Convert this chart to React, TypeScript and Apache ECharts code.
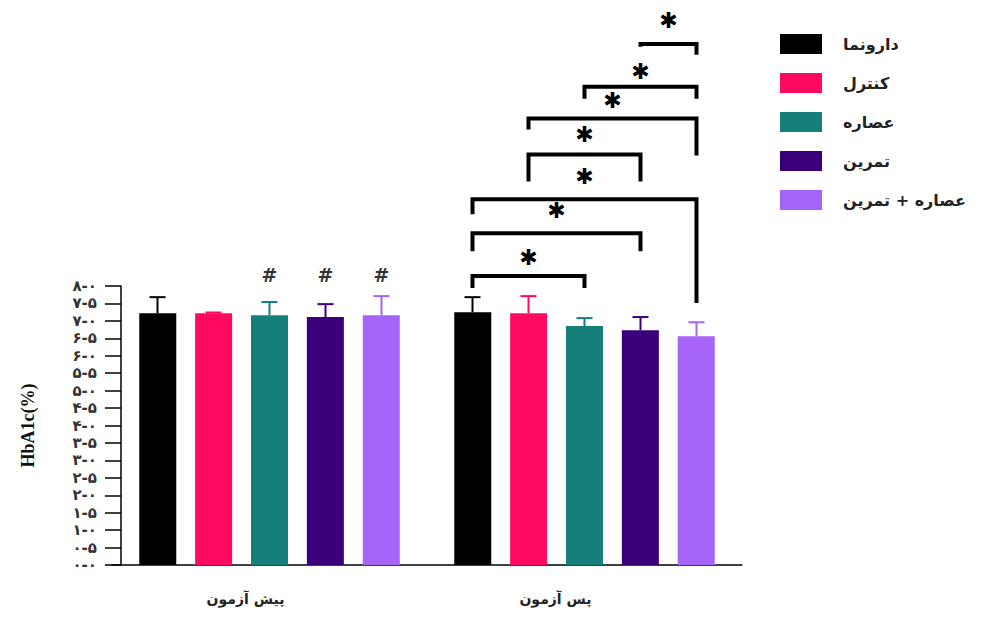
import React, { useEffect, useRef } from "react";
import * as echarts from "echarts";

// ---- data ----
const categories = ["پیش آزمون", "پس آزمون"];
const groupNames = ["دارونما", "کنترل", "عصاره", "تمرین", "عصاره + تمرین"];
const groupColors = ["#000000", "#FF0A60", "#167F7A", "#3B0079", "#A663F7"];

const placeboMean = [7.22, 7.25];
const placeboSD = [0.46, 0.43];
const controlMean = [7.22, 7.22];
const controlSD = [0.02, 0.49];
const extractMean = [7.16, 6.85];
const extractSD = [0.38, 0.23];
const exerciseMean = [7.11, 6.73];
const exerciseSD = [0.37, 0.38];
const combinedMean = [7.16, 6.56];
const combinedSD = [0.55, 0.4];

const means = [placeboMean, controlMean, extractMean, exerciseMean, combinedMean];
const sds = [placeboSD, controlSD, extractSD, exerciseSD, combinedSD];

// "#" marks above pre-test bars
const hashPre = ["", "", "#", "#", "#"];
const hashPost = ["", "", "", "", ""];
const hashLevel = 8.31;

const yTickLabels = [
  "۰-۰", "۰-۵", "۱-۰", "۱-۵", "۲-۰", "۲-۵", "۳-۰", "۳-۵", "۴-۰",
  "۴-۵", "۵-۰", "۵-۵", "۶-۰", "۶-۵", "۷-۰", "۷-۵", "۸-۰",
];

// significance brackets in post-test group (bar indices, y-levels in data units)
const bracketFrom = [3, 2, 1, 1, 0, 0, 0];
const bracketTo = [4, 4, 4, 3, 4, 3, 2];
const bracketLevel = [14.94, 13.71, 12.8, 11.77, 10.49, 9.51, 8.29];
const bracketLeftEnd = [14.86, 13.37, 12.49, 11.0, 10.06, 9.0, 7.94];
const bracketRightEnd = [14.63, 13.37, 11.74, 11.0, 7.51, 9.0, 7.94];
const starLevel = [15.6, 14.14, 13.31, 12.34, 11.14, 10.17, 8.83];

const BAR_WIDTH = 37;
const BAR_STEP = 56;
const PERSIAN_FONT = "DejaVu Sans";
const CATEGORY_LABEL_SHIFT = [48, 58]; // right padding (px) to nudge labels left

export default function App() {
  const ref = useRef<HTMLDivElement>(null);
  useEffect(() => {
    document.body.style.margin = "0";
    const chart = echarts.init(ref.current!, null, { renderer: "svg" });

    const barSeries = groupNames.map((name, s) => ({
      name,
      type: "bar",
      data: means[s],
      barWidth: BAR_WIDTH,
      barGap: "51%",
      itemStyle: { color: groupColors[s] },
      z: 2,
    }));

    const errData: number[][] = [];
    for (let s = 0; s < groupNames.length; s++) {
      for (let c = 0; c < categories.length; c++) {
        errData.push([c, s, means[s][c], sds[s][c]]);
      }
    }

    const errSeries = {
      type: "custom",
      clip: false,
      z: 3,
      encode: { x: 0, y: 2 },
      data: errData,
      renderItem: (params: any, api: any) => {
        const c = api.value(0);
        const s = api.value(1);
        const m = api.value(2);
        const sd = api.value(3);
        const base = api.coord([c, m]);
        const top = api.coord([c, m + sd]);
        const x = base[0] + (s - 2) * BAR_STEP;
        const color = groupColors[s];
        const children: any[] = [
          { type: "line", shape: { x1: x, y1: base[1], x2: x, y2: top[1] }, style: { stroke: color, lineWidth: 2 } },
          { type: "line", shape: { x1: x - 8, y1: top[1], x2: x + 8, y2: top[1] }, style: { stroke: color, lineWidth: 2 } },
        ];
        const h = c === 0 ? hashPre[s] : hashPost[s];
        if (h) {
          const hp = api.coord([c, hashLevel]);
          children.push({
            type: "text",
            x,
            y: hp[1],
            style: { text: h, fontSize: 19, fontWeight: "bold", fontFamily: "DejaVu Sans", fill: "#333", align: "center", verticalAlign: "middle" },
          });
        }
        return { type: "group", children };
      },
    };

    const bracketSeries = {
      type: "custom",
      clip: false,
      z: 4,
      encode: { x: 0, y: 1 },
      data: bracketLevel.map((v) => [1, v]),
      renderItem: (params: any, api: any) => {
        const i = params.dataIndex;
        const center = api.coord([1, bracketLevel[i]]);
        const xl = center[0] + (bracketFrom[i] - 2) * BAR_STEP;
        const xr = center[0] + (bracketTo[i] - 2) * BAR_STEP;
        const yLev = center[1];
        const yL = api.coord([1, bracketLeftEnd[i]])[1];
        const yR = api.coord([1, bracketRightEnd[i]])[1];
        const ys = api.coord([1, starLevel[i]])[1];
        return {
          type: "group",
          children: [
            {
              type: "polyline",
              shape: { points: [[xl, yL], [xl, yLev], [xr, yLev], [xr, yR]] },
              style: { stroke: "#000", lineWidth: 4, fill: null, lineJoin: "miter" },
            },
            {
              type: "text",
              x: (xl + xr) / 2,
              y: ys,
              style: { text: "✱", fontSize: 22, fontFamily: "DejaVu Sans", fill: "#000", align: "center", verticalAlign: "middle" },
            },
          ],
        };
      },
    };

    chart.setOption({
      animation: false,
      backgroundColor: "#ffffff",
      grid: { left: 112, top: 286, width: 630, height: 279, containLabel: false },
      legend: {
        orient: "vertical",
        left: 775,
        top: 29,
        itemWidth: 42,
        itemHeight: 20,
        itemGap: 19,
        icon: "rect",
        data: groupNames,
        textStyle: {
          fontFamily: PERSIAN_FONT,
          fontWeight: "bold",
          fontSize: 16,
          color: "#222",
          padding: [0, 0, 0, 16],
        },
      },
      xAxis: {
        type: "category",
        data: categories.map((c, i) => ({
          value: c,
          textStyle: { padding: [0, CATEGORY_LABEL_SHIFT[i], 0, 0] },
        })),
        axisLine: { lineStyle: { color: "#000", width: 1.5 } },
        axisTick: { alignWithLabel: true, length: 10, lineStyle: { color: "#000", width: 1.5 } },
        axisLabel: {
          margin: 27,
          fontFamily: PERSIAN_FONT,
          fontWeight: "bold",
          fontSize: 14,
          color: "#222",
        },
      },
      yAxis: {
        type: "value",
        min: 0,
        max: 8,
        interval: 0.5,
        offset: -9,
        name: "HbA1c(%)",
        nameLocation: "middle",
        nameGap: 84,
        nameTextStyle: { fontFamily: "Liberation Serif", fontWeight: "bold", fontSize: 18, color: "#111" },
        splitLine: { show: false },
        axisLine: { show: true, lineStyle: { color: "#000", width: 1.5 } },
        axisTick: { show: true, length: 16, lineStyle: { color: "#000", width: 1.5 } },
        axisLabel: {
          margin: 24,
          fontFamily: PERSIAN_FONT,
          fontWeight: "bold",
          fontSize: 15,
          lineHeight: 14,
          color: "#333",
          formatter: (v: number) => yTickLabels[Math.round(v / 0.5)],
        },
      },
      series: [...barSeries, errSeries, bracketSeries],
    } as any);

    return () => chart.dispose();
  }, []);
  return <div ref={ref} style={{ width: 993, height: 617 }} />;
}
